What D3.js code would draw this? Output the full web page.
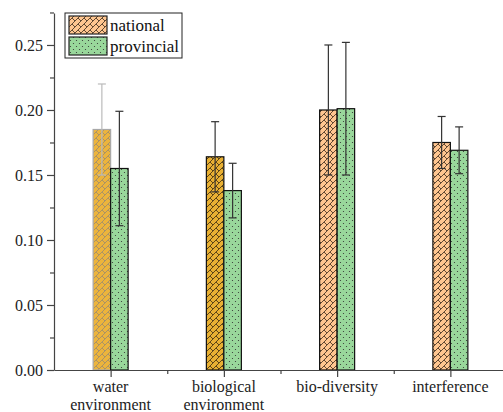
<!DOCTYPE html>
<html>
<head>
<meta charset="utf-8">
<script src="https://cdn.jsdelivr.net/npm/d3@7"></script>
<style>
  body { margin: 0; background: #fff; }
  svg text { font-family: "Liberation Serif", serif !important; }
</style>
</head>
<body>
<div id="chart"></div>
<script>
// data
const categories = [['water', 'environment'], ['biological', 'environment'], ['bio-diversity'], ['interference']];
const seriesNames = ['national', 'provincial'];
const nationalMean = [0.185, 0.164, 0.200, 0.175];
const nationalErr = [0.035, 0.027, 0.050, 0.020];
const provincialMean = [0.155, 0.138, 0.201, 0.169];
const provincialErr = [0.044, 0.021, 0.051, 0.018];
const yTicks = [0.00, 0.05, 0.10, 0.15, 0.20, 0.25];

const width = 503, height = 412;
const margin = { top: 13, right: -4, bottom: 42, left: 54 };
const serif = 'Liberation Serif';

const svg = d3.select('#chart').append('svg')
  .attr('width', width).attr('height', height);

// 1. patterns
const defs = svg.append('defs');
function hatch(id, fill, stroke) {
  const p = defs.append('pattern').attr('id', id)
    .attr('patternUnits', 'userSpaceOnUse').attr('width', 6).attr('height', 6);
  p.append('rect').attr('width', 6).attr('height', 6).attr('fill', fill);
  p.append('path').attr('d', 'M-1,7 L7,-1 M-1,1 L1,-1 M5,7 L7,5')
    .attr('stroke', stroke).attr('stroke-width', 0.8);
  p.append('path').attr('d', 'M0,0 L3,3')
    .attr('stroke', stroke).attr('stroke-width', 0.8);
}
hatch('hatchNat', '#ffc690', '#3a2a1a');
hatch('hatchDark', '#e8b033', '#3a2a10');
hatch('hatchGrey', '#ecb43c', '#9a8a70');
const dots = defs.append('pattern').attr('id', 'dots')
  .attr('patternUnits', 'userSpaceOnUse').attr('width', 6).attr('height', 6);
dots.append('rect').attr('width', 6).attr('height', 6).attr('fill', '#99d79b');
dots.append('circle').attr('cx', 1.5).attr('cy', 1.5).attr('r', 0.6).attr('fill', '#333');
dots.append('circle').attr('cx', 4.5).attr('cy', 4.5).attr('r', 0.6).attr('fill', '#333');

// 2. scales
const x = d3.scaleLinear().domain([0.5, 4.5]).range([margin.left, width - margin.right]);
const y = d3.scaleLinear().domain([0, 0.2746]).range([height - margin.bottom, margin.top]);
const barW = 17.5;

const data = [];
categories.forEach((c, i) => {
  data.push({ i, s: 0, v: nationalMean[i], e: nationalErr[i] });
  data.push({ i, s: 1, v: provincialMean[i], e: provincialErr[i] });
});
const fillOf = d => d.s === 1 ? 'url(#dots)' : d.i === 0 ? 'url(#hatchGrey)' : d.i === 1 ? 'url(#hatchDark)' : 'url(#hatchNat)';
const strokeOf = d => d.s === 0 && d.i === 0 ? '#a8a8a8' : '#111';
const barX = d => d.s === 0 ? x(d.i + 1) - barW : x(d.i + 1);

// 3. bars
svg.append('g').selectAll('rect').data(data).join('rect')
  .attr('x', barX)
  .attr('y', d => y(d.v))
  .attr('width', barW)
  .attr('height', d => y(0) - y(d.v))
  .attr('fill', fillOf)
  .attr('stroke', strokeOf)
  .attr('stroke-width', 1.2);

// 4. error bars
const eb = svg.append('g').selectAll('g').data(data).join('g')
  .attr('stroke', d => d.s === 0 && d.i === 0 ? '#bbb' : '#333')
  .attr('stroke-width', 1.2);
eb.append('line')
  .attr('x1', d => barX(d) + barW / 2).attr('x2', d => barX(d) + barW / 2)
  .attr('y1', d => y(d.v - d.e)).attr('y2', d => y(d.v + d.e));
eb.append('line')
  .attr('x1', d => barX(d) + barW / 2 - 4).attr('x2', d => barX(d) + barW / 2 + 4)
  .attr('y1', d => y(d.v + d.e)).attr('y2', d => y(d.v + d.e));
eb.append('line')
  .attr('x1', d => barX(d) + barW / 2 - 4).attr('x2', d => barX(d) + barW / 2 + 4)
  .attr('y1', d => y(d.v - d.e)).attr('y2', d => y(d.v - d.e));

// 5. axes
const axisColor = '#444';
const yAxis = svg.append('g').attr('transform', `translate(${margin.left},0)`)
  .call(d3.axisLeft(y).tickValues(yTicks).tickFormat(d3.format('.2f')).tickSize(7).tickSizeOuter(0));
svg.append('g').attr('transform', `translate(${margin.left},0)`)
  .call(d3.axisLeft(y).tickValues([0.025, 0.075, 0.125, 0.175, 0.225, 0.275]).tickFormat('').tickSize(4).tickSizeOuter(0))
  .select('.domain').remove();
svg.append('g').attr('transform', `translate(0,${y(0)})`)
  .call(d3.axisBottom(x).tickValues([1, 2, 3, 4]).tickFormat('').tickSize(7).tickSizeOuter(0));
svg.append('g').attr('transform', `translate(0,${y(0)})`)
  .call(d3.axisBottom(x).tickValues([1.5, 2.5, 3.5]).tickFormat('').tickSize(4).tickSizeOuter(0))
  .select('.domain').remove();
svg.selectAll('.domain, .tick line').attr('stroke', axisColor).attr('stroke-width', 1.2);
yAxis.attr('font-family', serif);
yAxis.selectAll('text').attr('font-size', 16).attr('fill', '#222').attr('x', -11)
  .style('font-family', serif);

// x category labels
svg.append('g').attr('font-family', serif).selectAll('text').data(categories).join('text')
  .attr('text-anchor', 'middle')
  .attr('font-size', 16)
  .attr('fill', '#222')
  .style('font-family', serif)
  .attr('x', (d, i) => x(i + 1))
  .attr('y', y(0) + 22)
  .selectAll('tspan').data(d => d).join('tspan')
  .attr('x', function () { return d3.select(this.parentNode).attr('x'); })
  .attr('dy', (d, j) => j === 0 ? 0 : 18)
  .text(d => d);

// 6. legend
const lg = svg.append('g').attr('font-family', serif);
lg.append('rect').attr('x', 65).attr('y', 13).attr('width', 117).attr('height', 45)
  .attr('fill', '#fff').attr('stroke', '#222').attr('stroke-width', 1);
seriesNames.forEach((n, i) => {
  lg.append('rect').attr('x', 69).attr('y', 16 + i * 21).attr('width', 38).attr('height', 18)
    .attr('fill', i === 0 ? 'url(#hatchNat)' : 'url(#dots)')
    .attr('stroke', '#222').attr('stroke-width', 1.2);
  lg.append('text').attr('x', 110).attr('y', 31 + i * 21)
    .attr('font-size', 17).attr('fill', '#111').style('font-family', serif).text(n);
});
</script>
</body>
</html>
